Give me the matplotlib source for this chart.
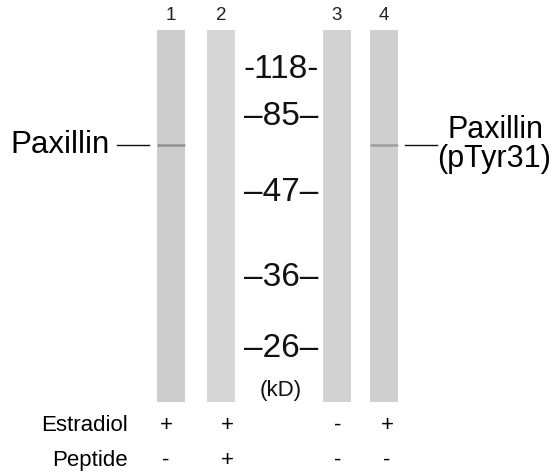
import matplotlib.pyplot as plt
from matplotlib.patches import Rectangle

plt.rcParams['font.family'] = ['Liberation Sans', 'DejaVu Sans']

# lanes of the blot
lane_labels = ['1', '2', '3', '4']
lane_x = [171, 221, 337, 384]
lane_shade = ['#cdcdcd', '#d6d6d6', '#d2d2d2', '#cfcfcf']
band_y = 145
band_strength = [0.5, 0.0, 0.0, 0.4]

# molecular weight markers (kD)
marker_kd = ['118', '85', '47', '36', '26']
marker_y = [70, 116, 192, 277, 348]

# treatments
sign_x = [166, 227, 338, 387]
estradiol = ['+', '+', '-', '+']
peptide = ['-', '+', '-', '-']

fig = plt.figure(figsize=(5.56, 4.73), dpi=100)
ax = fig.add_axes([0, 0, 1, 1])
ax.set_xlim(0, 556)
ax.set_ylim(473, 0)
ax.axis('off')

lane_w = 28
top, bottom = 30, 402
for x, lab, shade, s in zip(lane_x, lane_labels, lane_shade, band_strength):
    ax.add_patch(Rectangle((x - lane_w / 2, top), lane_w, bottom - top,
                           color=shade, lw=0))
    if s > 0:
        ax.plot([x - lane_w / 2, x + lane_w / 2], [band_y, band_y],
                color='#555555', alpha=s, lw=1.8, solid_capstyle='butt')
    ax.text(x, 16, lab, ha='center', va='center', fontsize=13.5, color='#222222')

for kd, y in zip(marker_kd, marker_y):
    dash = '-' if kd == '118' else '\u2013'
    ax.text(281, y, dash + kd + dash, ha='center', va='center',
            fontsize=24, color='#111111')
ax.text(281, 390, '(kD)', ha='center', va='center', fontsize=16, color='#111111')

# protein labels
ax.text(10, band_y, 'Paxillin', ha='left', va='center', fontsize=22.5)
ax.plot([117, 149], [band_y, band_y], color='#111111', lw=1)
ax.plot([405, 437], [band_y, band_y], color='#111111', lw=1)
ax.text(447, 130, 'Paxillin', ha='left', va='center', fontsize=22)
ax.text(437, 159, '(pTyr31)', ha='left', va='center', fontsize=22)

ax.text(128, 425, 'Estradiol', ha='right', va='center', fontsize=16)
ax.text(128, 460, 'Peptide', ha='right', va='center', fontsize=16)
for x, e, p in zip(sign_x, estradiol, peptide):
    ax.text(x, 425, e, ha='center', va='center', fontsize=16)
    ax.text(x, 460, p, ha='center', va='center', fontsize=16)

fig.savefig('out.png', dpi=100)
